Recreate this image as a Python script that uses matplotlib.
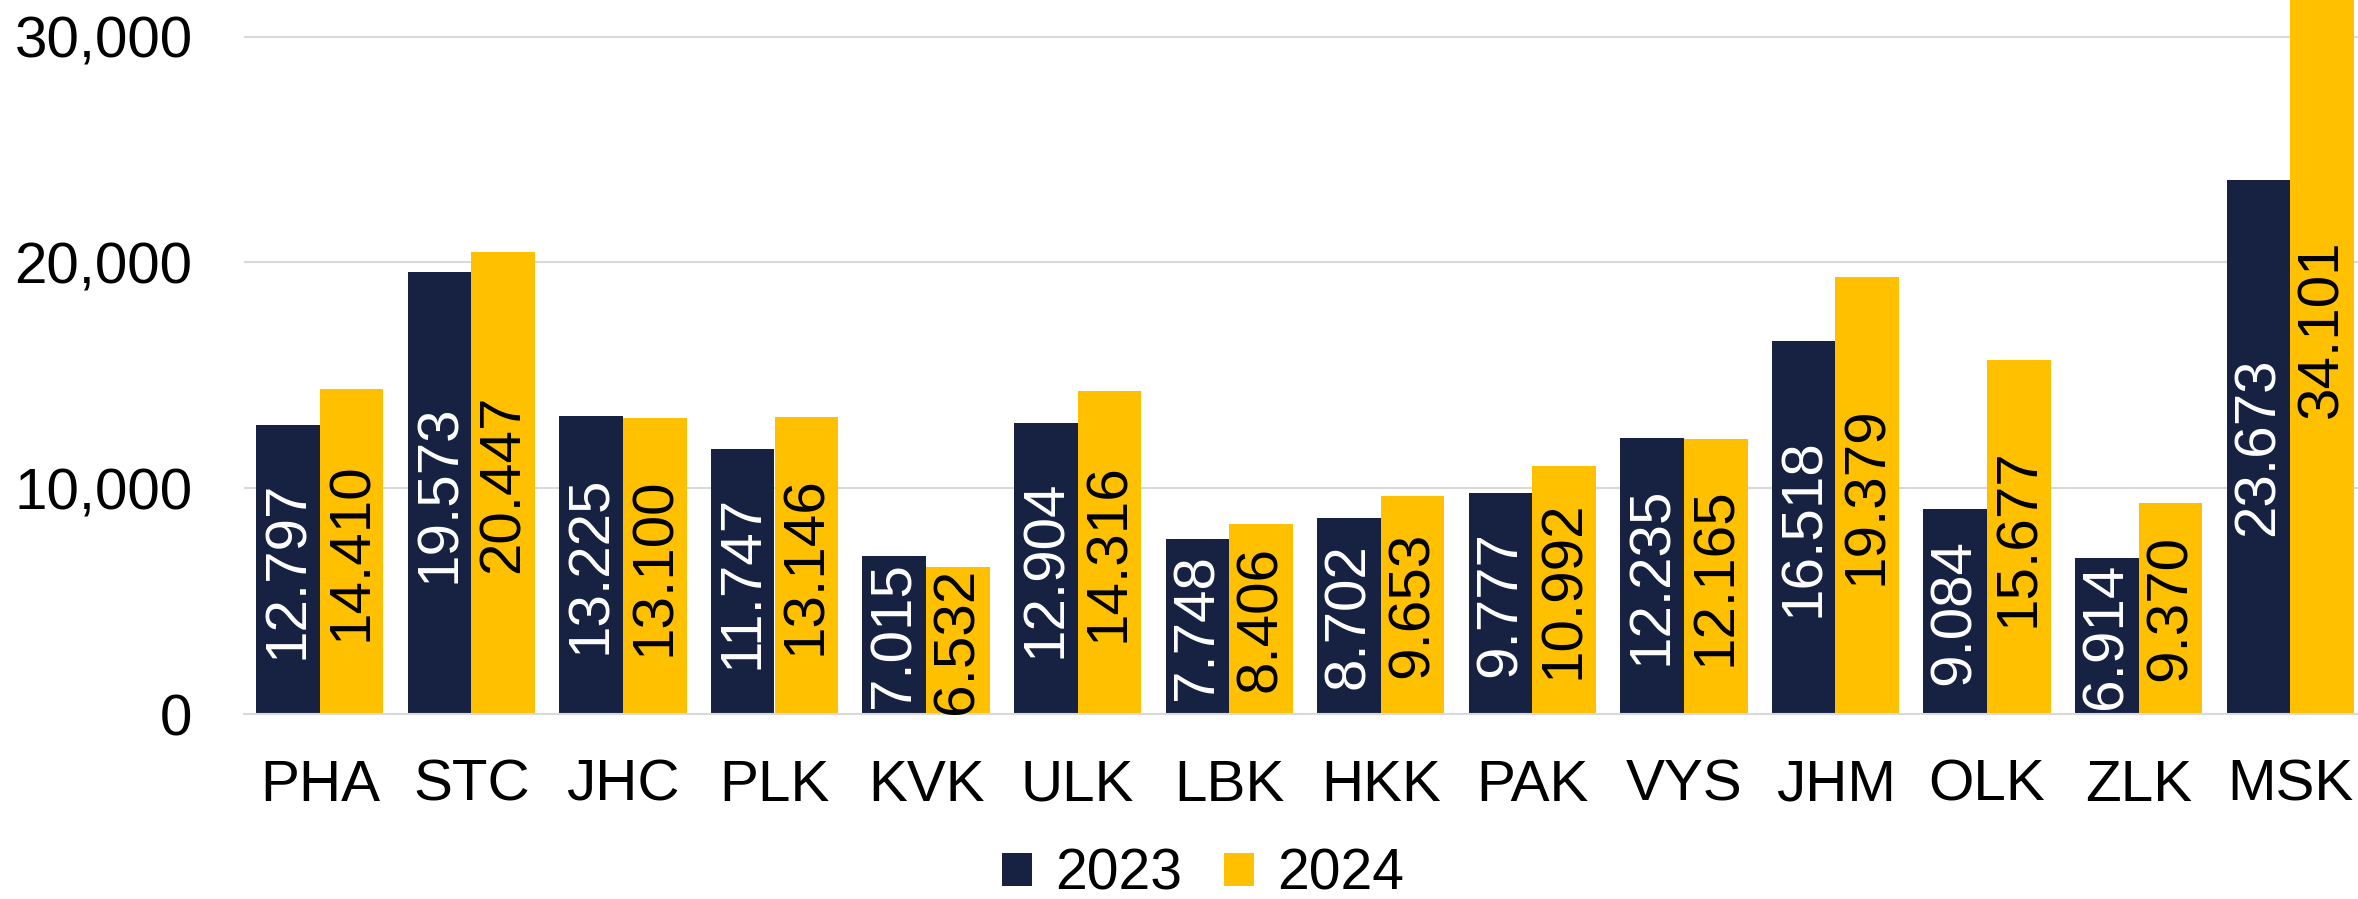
import matplotlib
matplotlib.use("Agg")
import matplotlib.pyplot as plt
import numpy as np
from matplotlib.ticker import FuncFormatter

# ============================================================
# DATA
# ============================================================

REGIONS = ["PHA", "STC", "JHC", "PLK", "KVK", "ULK", "LBK",
           "HKK", "PAK", "VYS", "JHM", "OLK", "ZLK", "MSK"]
VALUES_2023 = [12797, 19573, 13225, 11747, 7015, 12904, 7748,
               8702, 9777, 12235, 16518, 9084, 6914, 23673]
VALUES_2024 = [14410, 20447, 13100, 13146, 6532, 14316, 8406,
               9653, 10992, 12165, 19379, 15677, 9370, 34101]
SERIES_NAMES = ["2023", "2024"]
Y_TICKS = [0, 10000, 20000, 30000]

# ============================================================
# STYLE
# ============================================================

NAVY = "#172243"
GOLD = "#FFC000"
GRID = "#D9D9D9"
FONT = "Liberation Sans"
FS = 42

plt.rcParams["font.family"] = [FONT, "DejaVu Sans"]

W, H, DPI = 2358, 899, 100
fig = plt.figure(figsize=(W / DPI, H / DPI), dpi=DPI)
ax = fig.add_axes([244 / W, (H - 714.3) / H, 2122 / W, 714.3 / H])

x = np.arange(len(REGIONS))
bw = 0.42
ax.bar(x - bw / 2, VALUES_2023, bw, color=NAVY, label=SERIES_NAMES[0], zorder=3)
ax.bar(x + bw / 2, VALUES_2024, bw, color=GOLD, label=SERIES_NAMES[1], zorder=3)


def fmt_label(v):
    # data labels use a dot as thousands separator
    return f"{v:,}".replace(",", ".")


# labels centred on the full bar height (MSK 2024 runs off the top, label stays at half value)
for xs, vals, col in [(x - bw / 2, VALUES_2023, "white"), (x + bw / 2, VALUES_2024, "black")]:
    for xi, v in zip(xs, vals):
        ax.text(xi, v / 2, fmt_label(v), rotation=90, ha="center", va="center",
                color=col, fontsize=FS, zorder=4)

ax.set_xlim(-0.5, len(REGIONS) - 0.5)
ax.set_ylim(0, 31620)
ax.set_xticks(x)
ax.set_xticklabels(REGIONS)
ax.set_yticks(Y_TICKS)
ax.yaxis.set_major_formatter(FuncFormatter(lambda v, p: f"{int(v):,}"))

ax.grid(axis="y", color=GRID, linewidth=1.5, zorder=0)
for side in ["top", "right", "left"]:
    ax.spines[side].set_visible(False)
ax.spines["bottom"].set_color(GRID)
ax.spines["bottom"].set_linewidth(1.5)
ax.spines["bottom"].set_zorder(3.5)
ax.tick_params(axis="both", length=0, labelsize=FS)
ax.tick_params(axis="y", pad=37)
ax.tick_params(axis="x", pad=32)

fig.legend(loc="center", bbox_to_anchor=(1203 / W, 24 / H), ncol=2, frameon=False,
           fontsize=41, handlelength=0.52, handleheight=0.52,
           handletextpad=0.4, columnspacing=0.75, borderpad=0, borderaxespad=0)

fig.savefig("out.png", dpi=DPI)
plt.close(fig)
